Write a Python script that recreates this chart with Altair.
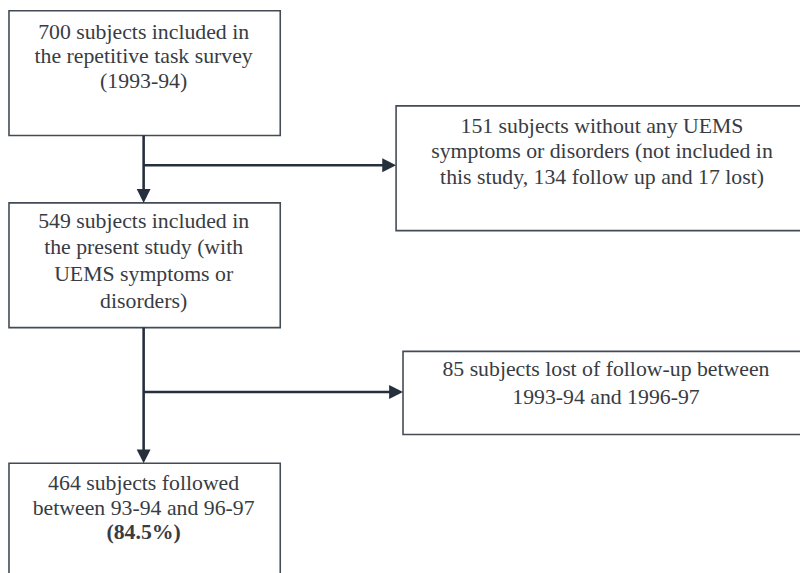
import altair as alt
import pandas as pd

# Boxes (flowchart nodes), in page pixel coordinates
box_x0 = [9, 400, 9, 407, 9]
box_x1 = [283, 830, 283, 830, 283]
box_y0 = [8, 104, 202, 352, 465]
box_y1 = [134, 230, 328, 436, 600]

# Connector segments
seg_x0 = [145, 145, 145, 145]
seg_y0 = [134, 164, 328, 393]
seg_x1 = [145, 392, 145, 399]
seg_y1 = [192, 164, 455, 393]

# Arrow tips
arrow_x = [145, 400, 145, 407]
arrow_y = [202, 164, 465, 393]
arrow_dir = ["down", "right", "down", "right"]

# Text lines
text_lines = [
    "700 subjects included in", "the repetitive task survey", "(1993-94)",
    "151 subjects without any UEMS", "symptoms or disorders (not included in",
    "this study, 134 follow up and 17 lost)",
    "549 subjects included in", "the present study (with", "UEMS symptoms or", "disorders)",
    "85 subjects lost of follow-up between", "1993-94 and 1996-97",
    "464 subjects followed", "between 93-94 and 96-97", "(84.5%)",
]
text_x = [145, 145, 145, 608, 608, 608, 145, 145, 145, 145, 612, 612, 145, 145, 145]
text_y = [29, 54, 79, 124, 150, 176, 220, 247, 274, 301, 370, 398, 485, 510, 535]
text_bold = [False] * 14 + [True]

boxes = pd.DataFrame({"x0": box_x0, "x1": box_x1, "y0": box_y0, "y1": box_y1})
segs = pd.DataFrame({"x0": seg_x0, "y0": seg_y0, "x1": seg_x1, "y1": seg_y1})
arrows = pd.DataFrame({"x": arrow_x, "y": arrow_y, "dir": arrow_dir})
texts = pd.DataFrame({"t": text_lines, "x": text_x, "y": text_y,
                      "w": ["bold" if b else "normal" for b in text_bold]})

W, H = 800, 565
xs = alt.Scale(domain=[8, 808], nice=False, zero=False)
ys = alt.Scale(domain=[8, 573], nice=False, zero=False, reverse=True)
X = lambda f: alt.X(f, type="quantitative", scale=xs, axis=None)
Y = lambda f: alt.Y(f, type="quantitative", scale=ys, axis=None)

line_col = "#262f3c"
box_col = "#434b55"
txt_col = "#383c43"
font = "Liberation Serif"

rects = alt.Chart(boxes).mark_rect(fill="white", stroke=box_col, strokeWidth=1.6).encode(
    x=X("x0"), x2="x1", y=Y("y0"), y2="y1"
)
rules = alt.Chart(segs).mark_rule(color=line_col, strokeWidth=2.6).encode(
    x=X("x0"), x2="x1", y=Y("y0"), y2="y1"
)
down = alt.Chart(arrows).transform_filter(alt.datum.dir == "down").mark_point(
    shape="M0,0L-1,-2L1,-2Z", filled=True, color=line_col, opacity=1, size=196, strokeWidth=0
).encode(x=X("x"), y=Y("y"))
right = alt.Chart(arrows).transform_filter(alt.datum.dir == "right").mark_point(
    shape="M0,0L-2,-1L-2,1Z", filled=True, color=line_col, opacity=1, size=196, strokeWidth=0
).encode(x=X("x"), y=Y("y"))
txt_n = alt.Chart(texts).transform_filter(alt.datum.w == "normal").mark_text(
    font=font, fontSize=22, fontWeight="normal", color=txt_col, align="center", baseline="middle"
).encode(x=X("x"), y=Y("y"), text="t:N")
txt_b = alt.Chart(texts).transform_filter(alt.datum.w == "bold").mark_text(
    font=font, fontSize=22, fontWeight="bold", color=txt_col, align="center", baseline="middle"
).encode(x=X("x"), y=Y("y"), text="t:N")

chart = alt.layer(rects, rules, down, right, txt_n, txt_b).properties(
    width=W, height=H, autosize="none", padding=0
).configure(font=font).configure_text(font=font).configure_view(stroke=None)

chart.save("out.html", embed_options={"renderer": "svg", "actions": False})
